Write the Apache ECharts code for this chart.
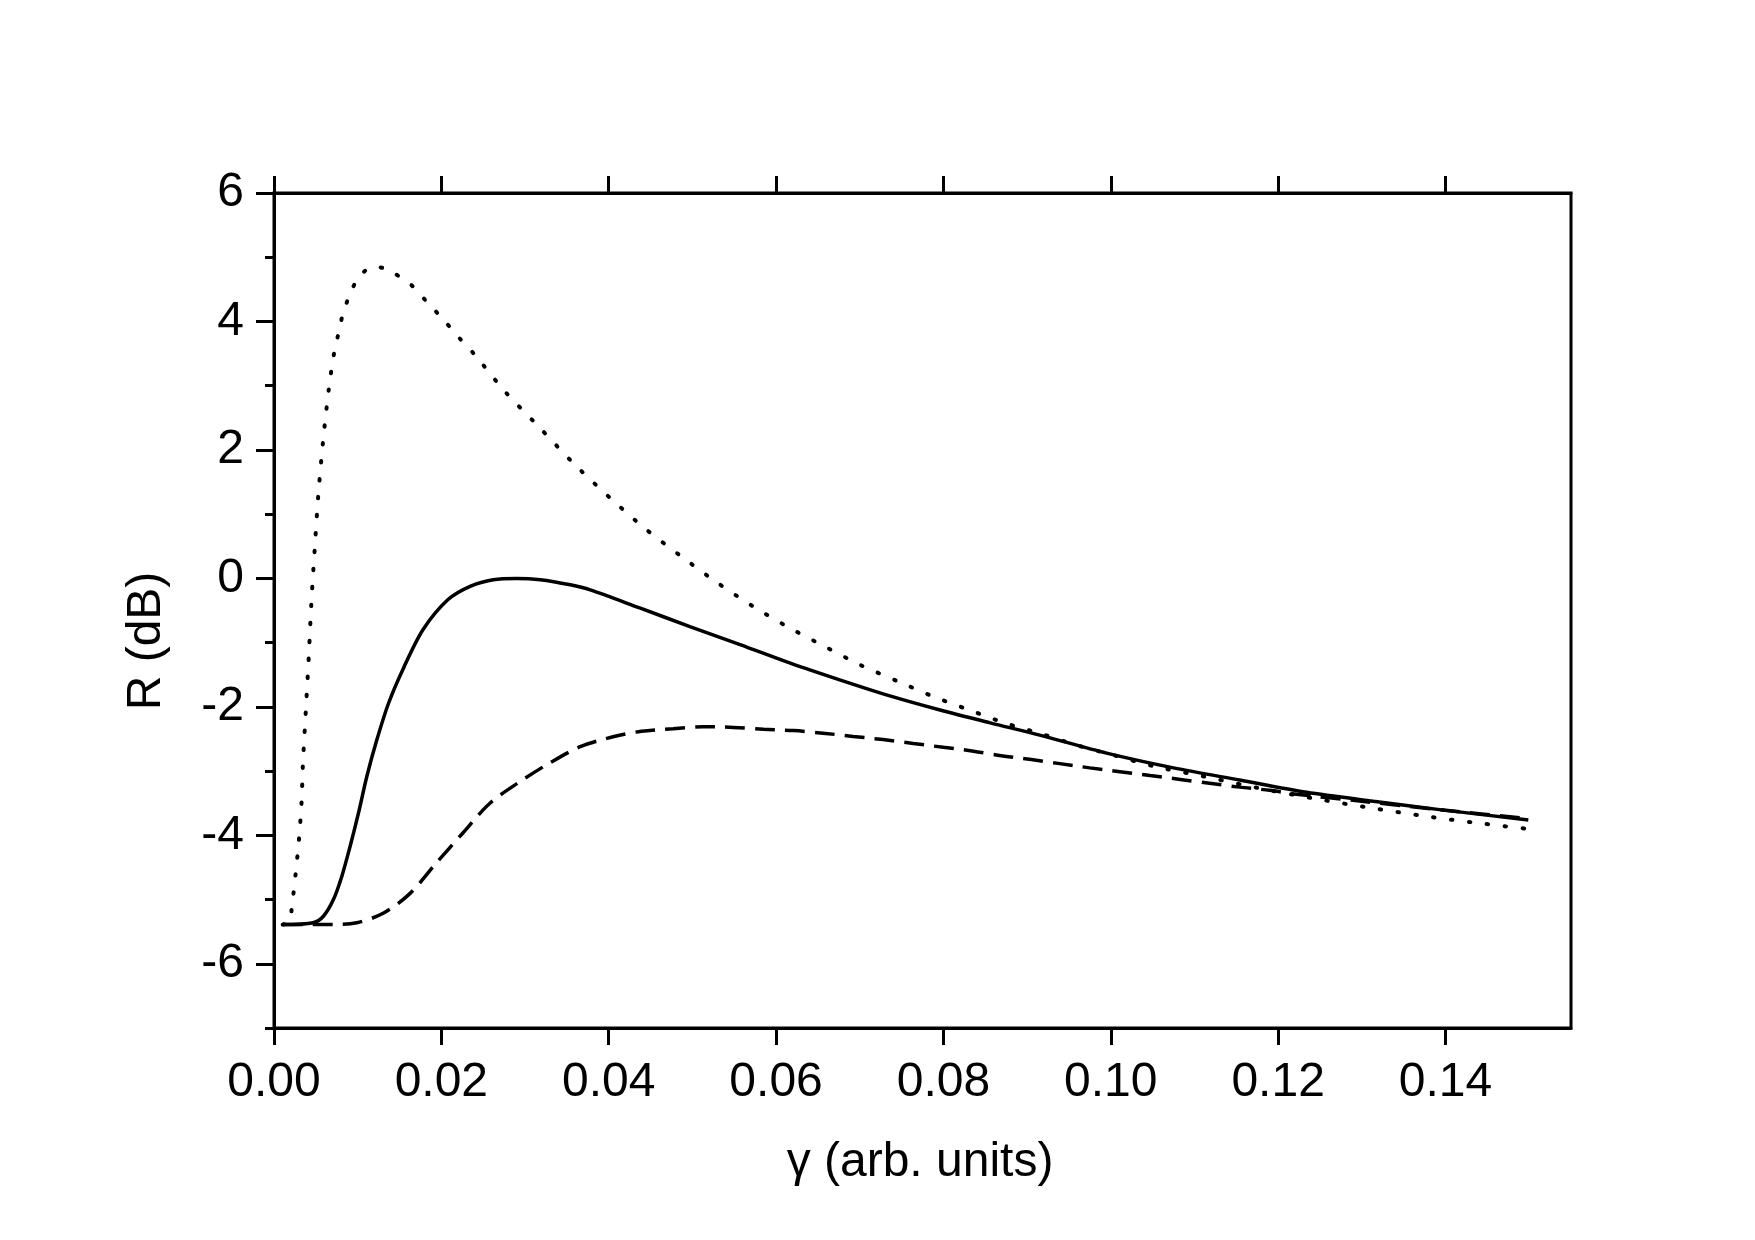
<!DOCTYPE html>
<html>
<head>
    <meta charset="utf-8" />
    <title>R vs gamma</title>
    <style>
        body { margin: 0; background: #fff; }
    </style>
</head>
<body>
<script src="https://cdn.jsdelivr.net/npm/echarts@6.0.0/dist/echarts.min.js"></script>
<div id="main" style="width: 1755px;height:1240px;"></div>
<script type="text/javascript">
    // tick values
    var xTicks = [0, 0.02, 0.04, 0.06, 0.08, 0.10, 0.12, 0.14];
    var yLabels = [-6, -4, -2, 0, 2, 4, 6];
    var yMinor = [-7, -5, -3, -1, 1, 3, 5];

    // solid curve [gamma, R]
    var solidPts = [
        [0.00104, -5.39], [0.0047, -5.36], [0.0059, -5.26], [0.0071, -5.00], [0.0081, -4.64],
        [0.0091, -4.17], [0.0101, -3.65], [0.0111, -3.08], [0.0123, -2.51], [0.0137, -1.94],
        [0.0155, -1.39], [0.0178, -0.80], [0.0208, -0.33], [0.0235, -0.12], [0.0262, -0.02],
        [0.0290, 0.00], [0.0318, -0.02], [0.0354, -0.10], [0.0378, -0.18], [0.0437, -0.46],
        [0.0497, -0.75], [0.0557, -1.03], [0.0617, -1.32], [0.0676, -1.58], [0.0736, -1.83],
        [0.0796, -2.05], [0.0856, -2.25], [0.0915, -2.44], [0.0995, -2.72], [0.1075, -2.95],
        [0.1154, -3.14], [0.1234, -3.33], [0.1314, -3.47], [0.1393, -3.60], [0.1499, -3.76]
    ];

    // dashed curve
    var dashedPts = [
        [0.00104, -5.39], [0.0060, -5.39], [0.0099, -5.36], [0.0131, -5.21], [0.0163, -4.90],
        [0.0194, -4.43], [0.0226, -3.96], [0.0258, -3.50], [0.0298, -3.13], [0.0330, -2.87],
        [0.0366, -2.62], [0.0404, -2.47], [0.0439, -2.38], [0.0477, -2.34], [0.0513, -2.31],
        [0.0549, -2.32], [0.0585, -2.35], [0.0621, -2.37], [0.0656, -2.41], [0.0692, -2.46],
        [0.0728, -2.51], [0.0764, -2.57], [0.0800, -2.63], [0.0836, -2.69], [0.0869, -2.76],
        [0.0905, -2.82], [0.0937, -2.88], [0.0975, -2.95], [0.1011, -3.01], [0.1047, -3.07],
        [0.1083, -3.13], [0.1118, -3.19], [0.1154, -3.25], [0.1190, -3.30], [0.1222, -3.36],
        [0.1300, -3.47], [0.1400, -3.61], [0.1499, -3.74]
    ];

    // dotted curve
    var dottedPts = [
        [0.00104, -5.39], [0.0019, -5.34], [0.0021, -5.16], [0.0026, -4.58], [0.0030, -4.04],
        [0.0033, -3.47], [0.00345, -2.90], [0.0038, -2.06], [0.00415, -1.23], [0.00446, -0.39],
        [0.00486, 0.45], [0.00529, 1.29], [0.00585, 2.12], [0.00657, 2.97], [0.00721, 3.53],
        [0.00768, 3.80], [0.00816, 4.08], [0.00888, 4.36], [0.00988, 4.64], [0.0110, 4.80],
        [0.0120, 4.85], [0.0131, 4.83], [0.0141, 4.77], [0.0163, 4.58], [0.0183, 4.30],
        [0.0203, 4.02], [0.0221, 3.75], [0.0240, 3.48], [0.0276, 2.91], [0.0318, 2.34],
        [0.0358, 1.79], [0.0401, 1.26], [0.0443, 0.78], [0.0487, 0.34], [0.0530, -0.07],
        [0.0573, -0.44], [0.0616, -0.77], [0.0658, -1.06], [0.0701, -1.35], [0.0745, -1.60],
        [0.0788, -1.84], [0.0831, -2.05], [0.0873, -2.25], [0.0917, -2.42], [0.0960, -2.60],
        [0.1000, -2.74], [0.1050, -2.92], [0.1110, -3.08], [0.1175, -3.26], [0.1240, -3.42],
        [0.1304, -3.56], [0.1369, -3.69], [0.1433, -3.80], [0.1498, -3.90]
    ];

    var font = '"Liberation Sans", Arial, sans-serif';
    var black = '#000';

    var myChart = echarts.init(document.getElementById('main'));

    function lineSeries(data, type, width, cap) {
        return {
            type: 'line',
            data: data,
            xAxisIndex: 0,
            yAxisIndex: 0,
            showSymbol: false,
            smooth: 0.3,
            lineStyle: { color: black, width: width, type: type, cap: cap || 'butt' },
            z: 3
        };
    }

    var option = {
        animation: false,
        backgroundColor: '#fff',
        textStyle: { fontFamily: font },
        grid: {
            left: 274, right: 184, top: 193, bottom: 212,
            show: true, borderColor: black, borderWidth: 3, backgroundColor: 'transparent'
        },
        xAxis: [
            {
                type: 'value', position: 'bottom', min: 0, max: 0.155, interval: 0.02,
                splitLine: { show: false },
                axisLine: { show: true, onZero: false, lineStyle: { color: black, width: 3 } },
                axisTick: { show: true, length: 17, customValues: xTicks, lineStyle: { color: black, width: 3 } },
                axisLabel: {
                    customValues: xTicks, color: black, fontSize: 48, fontFamily: font, margin: 31,
                    formatter: function (v) { return v.toFixed(2); }
                }
            },
            {
                type: 'value', position: 'top', min: 0, max: 0.155, interval: 0.02,
                splitLine: { show: false },
                axisLine: { show: true, onZero: false, lineStyle: { color: black, width: 3 } },
                axisTick: { show: true, length: 17, customValues: xTicks, lineStyle: { color: black, width: 3 } },
                axisLabel: { show: false }
            }
        ],
        yAxis: [
            {
                type: 'value', position: 'left', min: -7, max: 6, interval: 1,
                splitLine: { show: false },
                axisLine: { show: true, onZero: false, lineStyle: { color: black, width: 3 } },
                axisTick: { show: true, length: 18, customValues: yLabels, lineStyle: { color: black, width: 3 } },
                axisLabel: {
                    customValues: yLabels, color: black, fontSize: 48, fontFamily: font, margin: 30
                }
            },
            {
                type: 'value', position: 'left', min: -7, max: 6, interval: 1,
                splitLine: { show: false },
                axisLine: { show: false, onZero: false },
                axisTick: { show: true, length: 9, customValues: yMinor, lineStyle: { color: black, width: 3 } },
                axisLabel: { show: false }
            }
        ],
        graphic: [
            {
                type: 'text', x: 920, y: 1163,
                style: { text: 'γ (arb. units)', font: '48px ' + font, fill: black, align: 'center', verticalAlign: 'middle' }
            },
            {
                type: 'text', x: 147, y: 641, rotation: Math.PI / 2,
                style: { text: 'R (dB)', font: '48px ' + font, fill: black, align: 'center', verticalAlign: 'middle' }
            }
        ],
        series: [
            lineSeries(dottedPts, [1.5, 16.5], 4, 'round'),
            lineSeries(dashedPts, [20, 10], 3.5),
            lineSeries(solidPts, 'solid', 3.5)
        ]
    };

    myChart.setOption(option);
</script>
</body>
</html>
